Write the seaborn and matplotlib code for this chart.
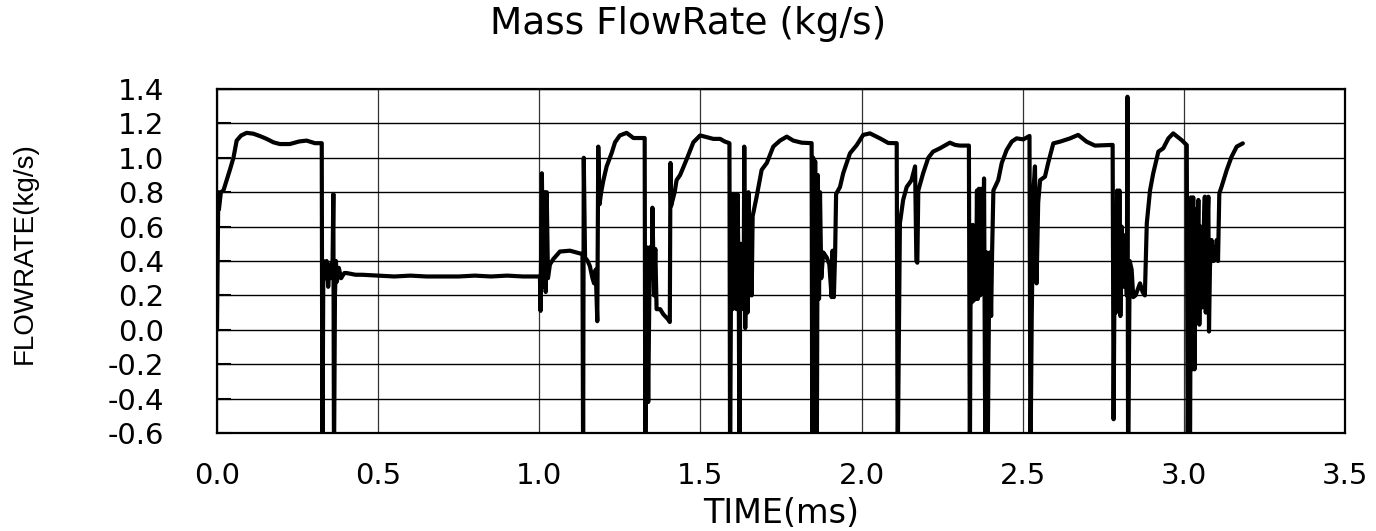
import matplotlib
matplotlib.use("Agg")
import matplotlib.pyplot as plt
import pandas as pd
import seaborn as sns

# ---------------- data ----------------
time_ms = [
    0.000, 0.004, 0.006, 0.012, 0.020, 0.030, 0.040, 0.051, 0.061, 0.075,
    0.092, 0.113, 0.135, 0.154, 0.175, 0.195, 0.226, 0.255, 0.278, 0.304,
    0.325, 0.327, 0.330, 0.335, 0.340, 0.345, 0.350, 0.358, 0.361, 0.363,
    0.366, 0.369, 0.372, 0.378, 0.385, 0.395, 0.402, 0.430, 0.450, 0.500,
    0.550, 0.600, 0.650, 0.700, 0.750, 0.800, 0.850, 0.900, 0.950, 1.000,
    # cycle 2
    1.002, 1.004, 1.008, 1.012, 1.016, 1.020, 1.023, 1.027, 1.033, 1.043,
    1.064, 1.095, 1.115, 1.126, 1.134, 1.136, 1.138, 1.142, 1.150, 1.157,
    1.165, 1.170, 1.175, 1.180, 1.183, 1.187, 1.192, 1.199, 1.209, 1.225,
    1.235, 1.250, 1.271, 1.292, 1.327,
    # cycle 3
    1.329, 1.333, 1.338, 1.343, 1.349, 1.351, 1.356, 1.360, 1.364, 1.375,
    1.385, 1.400, 1.405, 1.407, 1.409, 1.420, 1.426, 1.437, 1.457, 1.478,
    1.499, 1.520, 1.540, 1.561, 1.575, 1.590,
    # cycle 4
    1.592, 1.595, 1.598, 1.600, 1.603, 1.606, 1.609, 1.612, 1.615, 1.619,
    1.621, 1.624, 1.627, 1.630, 1.634, 1.636, 1.639, 1.643, 1.646, 1.649,
    1.652, 1.656, 1.659, 1.662, 1.674, 1.690, 1.706, 1.726, 1.747, 1.768,
    1.788, 1.814, 1.845,
    # cycle 5
    1.847, 1.850, 1.853, 1.856, 1.859, 1.861, 1.864, 1.868, 1.871, 1.875,
    1.881, 1.892, 1.900, 1.907, 1.910, 1.914, 1.918, 1.921, 1.933, 1.943,
    1.964, 1.985, 2.005, 2.026, 2.057, 2.083, 2.109,
    # cycle 6
    2.112, 2.116, 2.119, 2.129, 2.140, 2.155, 2.166, 2.170, 2.173, 2.176,
    2.191, 2.207, 2.222, 2.243, 2.274, 2.290, 2.305, 2.333,
    # cycle 7
    2.336, 2.339, 2.342, 2.345, 2.348, 2.352, 2.355, 2.358, 2.361, 2.364,
    2.368, 2.372, 2.376, 2.380, 2.384, 2.388, 2.391, 2.395, 2.398, 2.402,
    2.405, 2.409, 2.424, 2.435, 2.450, 2.466, 2.481, 2.502, 2.521,
    # cycle 8
    2.524, 2.528, 2.533, 2.538, 2.543, 2.548, 2.554, 2.569, 2.579, 2.595,
    2.616, 2.647, 2.672, 2.698, 2.724, 2.779,
    # cycle 9
    2.782, 2.786, 2.789, 2.793, 2.797, 2.800, 2.803, 2.807, 2.812, 2.818,
    2.823, 2.825, 2.827, 2.832, 2.838, 2.843, 2.850, 2.864, 2.872, 2.879,
    2.885, 2.895, 2.905, 2.921, 2.936, 2.952, 2.967, 2.993, 3.009,
    # cycle 10
    3.012, 3.016, 3.019, 3.022, 3.025, 3.029, 3.033, 3.036, 3.040, 3.045,
    3.048, 3.052, 3.056, 3.060, 3.065, 3.068, 3.072, 3.076, 3.078, 3.081,
    3.086, 3.092, 3.097, 3.102, 3.106, 3.110, 3.117, 3.133, 3.148, 3.164,
    3.183,
]

flow_kgs = [
    0.00, 0.80, 0.70, 0.80, 0.81, 0.87, 0.93, 1.00, 1.10, 1.13,
    1.145, 1.14, 1.125, 1.11, 1.09, 1.08, 1.08, 1.095, 1.10, 1.085,
    1.085, -0.80, 0.40, 0.30, 0.40, 0.25, 0.38, 0.30, 0.79, -0.80,
    0.20, 0.40, 0.28, 0.36, 0.30, 0.33, 0.33, 0.32, 0.32, 0.315,
    0.31, 0.315, 0.31, 0.31, 0.31, 0.315, 0.31, 0.315, 0.31, 0.31,
    # cycle 2
    0.31, 0.11, 0.91, 0.25, 0.80, 0.22, 0.80, 0.30, 0.38, 0.41,
    0.455, 0.46, 0.45, 0.445, 0.44, -0.80, 1.00, 0.42, 0.40, 0.37,
    0.30, 0.27, 0.35, 0.05, 1.065, 0.73, 0.80, 0.87, 0.95, 1.03,
    1.09, 1.13, 1.145, 1.115, 1.115,
    # cycle 3
    -0.80, 0.48, -0.42, 0.48, 0.30, 0.71, 0.20, 0.47, 0.12, 0.12,
    0.09, 0.06, 0.045, 0.97, 0.72, 0.80, 0.87, 0.90, 0.99, 1.09,
    1.13, 1.12, 1.11, 1.11, 1.095, 1.085,
    # cycle 4
    -0.80, 0.30, 0.79, 0.12, 0.79, 0.20, 0.70, 0.12, 0.79, 0.25,
    -0.80, 0.50, 0.12, 0.50, 0.15, 1.065, 0.01, 0.60, 0.10, 0.80,
    0.20, 0.66, 0.20, 0.66, 0.77, 0.93, 0.97, 1.065, 1.10, 1.123,
    1.10, 1.088, 1.085,
    # cycle 5
    -0.80, 1.00, 0.17, 0.98, 0.20, -0.80, 0.90, 0.18, 0.80, 0.30,
    0.45, 0.42, 0.38, 0.19, 0.46, 0.19, 0.45, 0.79, 0.83, 0.91,
    1.026, 1.074, 1.133, 1.142, 1.113, 1.086, 1.085,
    # cycle 6
    -0.80, 0.02, 0.62, 0.755, 0.83, 0.87, 0.95, 0.40, 0.39, 0.81,
    0.91, 1.00, 1.036, 1.055, 1.088, 1.075, 1.071, 1.071,
    # cycle 7
    -0.80, 0.60, 0.16, 0.61, 0.17, 0.55, 0.18, 0.81, 0.18, 0.82,
    0.20, 0.82, 0.30, 0.88, -0.80, 0.45, -0.80, 0.07, 0.45, 0.08,
    0.45, 0.81, 0.87, 0.97, 1.045, 1.094, 1.113, 1.107, 1.127,
    # cycle 8
    -0.80, 0.08, 0.80, 0.95, 0.27, 0.74, 0.87, 0.89, 0.97, 1.084,
    1.094, 1.113, 1.133, 1.094, 1.071, 1.075,
    # cycle 9
    -0.52, 0.60, 0.10, 0.81, 0.15, 0.81, 0.08, 0.60, 0.25, 0.55,
    0.20, 1.355, -0.80, 0.40, 0.35, 0.19, 0.20, 0.27, 0.22, 0.20,
    0.62, 0.81, 0.91, 1.036, 1.055, 1.113, 1.142, 1.103, 1.074,
    # cycle 10
    -0.80, 0.50, -0.80, 0.77, -0.23, 0.77, -0.23, 0.70, 0.10, 0.755,
    0.03, 0.60, 0.13, 0.50, 0.774, 0.10, 0.55, 0.774, -0.01, 0.367,
    0.522, 0.40, 0.406, 0.522, 0.40, 0.793, 0.832, 0.929, 1.006, 1.065,
    1.084,
]

x_ticks = [0.0, 0.5, 1.0, 1.5, 2.0, 2.5, 3.0, 3.5]
y_ticks = [-0.6, -0.4, -0.2, 0.0, 0.2, 0.4, 0.6, 0.8, 1.0, 1.2, 1.4]
title_text = "Mass FlowRate (kg/s)"
x_label = "TIME(ms)"
y_label = "FLOWRATE(kg/s)"

# ---------------- style ----------------
sns.set_theme(style="white")
plt.rcParams["font.family"] = ["DejaVu Sans"]
plt.rcParams["axes.unicode_minus"] = False

W, H = 1376, 531
fig = plt.figure(figsize=(W / 100, H / 100), dpi=100)
ax = fig.add_axes([217 / W, 1 - 433 / H, (1345 - 217) / W, (433 - 89) / H])

df = pd.DataFrame({"time": time_ms, "flow": flow_kgs})
sns.lineplot(data=df, x="time", y="flow", sort=False, estimator=None,
             color="black", linewidth=3.0, ax=ax)

ax.set_xlim(x_ticks[0], x_ticks[-1])
ax.set_ylim(y_ticks[0], y_ticks[-1])
ax.set_xticks(x_ticks)
ax.set_xticklabels([f"{v:.1f}" for v in x_ticks])
ax.set_yticks(y_ticks)
ax.set_yticklabels([f"{v:.1f}" for v in y_ticks])

ax.set_axisbelow(True)
ax.grid(True, axis="y", color="black", linewidth=1.0)
ax.grid(True, axis="x", color="#333333", linewidth=0.9)

for s in ax.spines.values():
    s.set_visible(True)
    s.set_color("black")
    s.set_linewidth(1.6)

ax.tick_params(axis="y", direction="in", length=10, width=1.5, color="black",
               pad=38, labelsize=21, labelcolor="black", left=True)
ax.tick_params(axis="x", length=0, pad=21, labelsize=21, labelcolor="black")

ax.set_xlabel(x_label, fontsize=24, color="black", labelpad=5)
ax.set_ylabel("")
fig.text(25 / W, 1 - 253 / H, y_label, rotation=90, ha="center", va="center",
         fontsize=20, color="black", family=["Liberation Sans", "DejaVu Sans"])
fig.suptitle(title_text, x=0.5, y=1 - 24 / H, va="center", fontsize=27,
             color="black")

fig.savefig("out.png", dpi=100)
